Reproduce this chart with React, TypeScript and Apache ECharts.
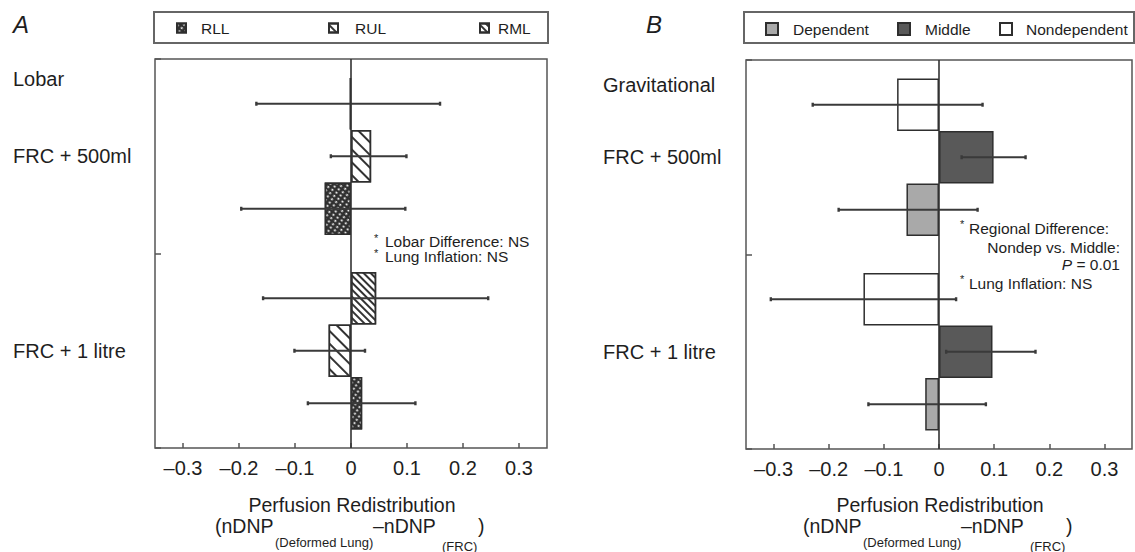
import React, { useEffect, useRef } from 'react';
import * as echarts from 'echarts';

// ---------------- data ----------------
const categories = ['FRC + 500ml', 'FRC + 1 litre'];
const xTickValues = [-0.3, -0.2, -0.1, 0, 0.1, 0.2, 0.3];
const xTickLabels = ['–0.3', '–0.2', '–0.1', '0', '0.1', '0.2', '0.3'];

// Panel A (lobar) – bars listed top→bottom inside each group
const lobarNames = ['RML', 'RUL', 'RLL'];
const rmlValues = [-0.002, 0.045];
const rulValues = [0.036, -0.04];
const rllValues = [-0.047, 0.02];
const rmlLow = [-0.169, -0.157];
const rmlHigh = [0.159, 0.245];
const rulLow = [-0.036, -0.101];
const rulHigh = [0.099, 0.025];
const rllLow = [-0.196, -0.077];
const rllHigh = [0.097, 0.115];

// Panel B (gravitational) – bars listed top→bottom inside each group
const gravNames = ['Nondependent', 'Middle', 'Dependent'];
const nondepValues = [-0.076, -0.137];
const middleValues = [0.099, 0.097];
const dependValues = [-0.059, -0.025];
const nondepLow = [-0.229, -0.305];
const nondepHigh = [0.079, 0.031];
const middleLow = [0.041, 0.013];
const middleHigh = [0.157, 0.175];
const dependLow = [-0.182, -0.128];
const dependHigh = [0.07, 0.085];

// ---------------- styling ----------------
const FONT = "'Liberation Sans', Arial, Helvetica, sans-serif";
const TEXT = '#1e1e1e';
const FRAME = '#555';
const EDGE = '#2e2e2e';
const ERR = '#3a3a3a';
const CAT_GAP = 0.19;

const fmtTick = (v: number) => {
  const i = xTickValues.findIndex((t) => Math.abs(t - v) < 1e-9);
  return i >= 0 ? xTickLabels[i] : '';
};

function errorRows(lows: number[][], highs: number[][]) {
  const rows: number[][] = [];
  lows.forEach((lo, s) => {
    lo.forEach((l, c) => rows.push([c, s, l, highs[s][c]]));
  });
  return rows;
}

const errorRender = (params: any, api: any) => {
  const c = api.value(0);
  const s = api.value(1);
  const lo = api.value(2);
  const hi = api.value(3);
  const centre = api.coord([0, c]);
  const band = api.size([0, 1])[1];
  const bw = (band * (1 - CAT_GAP)) / 3;
  const y = centre[1] - 1.5 * bw + (s + 0.5) * bw;
  const x1 = api.coord([lo, c])[0];
  const x2 = api.coord([hi, c])[0];
  return {
    type: 'group',
    children: [
      { type: 'line', shape: { x1, y1: y, x2, y2: y }, style: { stroke: ERR, lineWidth: 1.8 } },
      { type: 'line', shape: { x1, y1: y - 2, x2: x1, y2: y + 2 }, style: { stroke: ERR, lineWidth: 2.4 } },
      { type: 'line', shape: { x1: x2, y1: y - 2, x2, y2: y + 2 }, style: { stroke: ERR, lineWidth: 2.4 } },
    ],
  };
};

const decals: Record<string, any> = {
  RML: { symbol: 'rect', symbolSize: 1, dashArrayX: [1, 0], dashArrayY: [1.3, 2.2], rotation: Math.PI / 4, color: '#333' },
  RUL: { symbol: 'rect', symbolSize: 1, dashArrayX: [1, 0], dashArrayY: [1.6, 6.5], rotation: Math.PI / 4, color: '#333' },
  RLL: { symbol: 'circle', symbolSize: 1, dashArrayX: [2.2, 1.3], dashArrayY: [1.8, 1.5], rotation: 0.6, color: '#f4f4f4' },
};
const fills: Record<string, string> = {
  RML: '#ffffff',
  RUL: '#ffffff',
  RLL: '#303030',
  Nondependent: '#ffffff',
  Middle: '#595959',
  Dependent: '#a9a9a9',
};

function barSeries(name: string, data: number[], idx: number, withZero: boolean) {
  const s: any = {
    type: 'bar',
    name,
    xAxisIndex: idx,
    yAxisIndex: idx,
    data,
    barGap: '0%',
    barCategoryGap: CAT_GAP * 100 + '%',
    silent: true,
    itemStyle: { color: fills[name], borderColor: EDGE, borderWidth: 1.5 },
  };
  if (decals[name]) s.itemStyle.decal = decals[name];
  if (withZero) {
    s.markLine = {
      silent: true,
      symbol: 'none',
      label: { show: false },
      lineStyle: { color: '#333', width: 1.6, type: 'solid' },
      data: [{ xAxis: 0 }],
      z: 5,
    };
  }
  return s;
}

function legendItem(name: string, left: number, top: number, size: number, pad: number) {
  return {
    data: [name],
    left,
    top,
    padding: 0,
    itemWidth: size,
    itemHeight: size,
    icon: 'rect',
    selectedMode: false,
    textStyle: { fontFamily: FONT, fontSize: 15.5, color: TEXT, padding: [0, 0, 0, pad] },
  };
}

function makeXAxis(i: number) {
  return {
    type: 'value',
    gridIndex: i,
    min: -0.35,
    max: 0.35,
    axisLine: { show: false, onZero: false },
    splitLine: { show: false },
    axisTick: { show: true, inside: true, length: 5, lineStyle: { color: FRAME, width: 1.5 }, customValues: xTickValues },
    axisLabel: { customValues: xTickValues, formatter: fmtTick, fontSize: 20, color: TEXT, fontFamily: FONT, margin: 10 },
  };
}

function makeYAxis(i: number, margin: number) {
  return {
    type: 'category',
    gridIndex: i,
    data: categories,
    inverse: true,
    axisLine: { show: false, onZero: false },
    splitLine: { show: false },
    axisTick: { show: true, inside: true, length: 6, lineStyle: { color: FRAME, width: 1.5 } },
    axisLabel: { align: 'left', margin, fontSize: 20, color: TEXT, fontFamily: FONT },
  };
}

function txt(text: string, x: number, y: number, size: number, extra: any = {}) {
  return {
    type: 'text',
    x,
    y,
    silent: true,
    style: { text, fontSize: size, fontFamily: FONT, fill: TEXT, align: 'left', verticalAlign: 'middle', ...extra },
  };
}

function axisTitle(dx: number) {
  return [
    txt('Perfusion Redistribution', 352 + dx, 505, 19.5, { align: 'center' }),
    txt('(nDNP', 215 + dx, 526, 19.5),
    txt('(Deformed Lung)', 275 + dx, 542, 13),
    txt('–nDNP', 373 + dx, 526, 19.5),
    txt('(FRC)', 442 + dx, 546, 13),
    txt(')', 478 + dx, 526, 19.5),
  ];
}

export default function App() {
  const ref = useRef<HTMLDivElement>(null);
  useEffect(() => {
    if (!ref.current) return;
    const chart = echarts.init(ref.current, undefined, { renderer: 'svg' });
    const option: any = {
      animation: false,
      backgroundColor: '#ffffff',
      grid: [
        { left: 155, top: 59, width: 392, height: 389, show: true, borderColor: FRAME, borderWidth: 1.5, backgroundColor: 'transparent' },
        { left: 746, top: 60, width: 386, height: 389, show: true, borderColor: FRAME, borderWidth: 1.5, backgroundColor: 'transparent' },
      ],
      xAxis: [makeXAxis(0), makeXAxis(1)],
      yAxis: [makeYAxis(0, 142), makeYAxis(1, 143)],
      legend: [
        legendItem('RLL', 176, 20, 9, 10),
        legendItem('RUL', 328, 20, 9, 12),
        legendItem('RML', 479, 20, 9, 4),
        legendItem('Dependent', 765, 21, 12, 10),
        legendItem('Middle', 897, 21, 12, 10),
        legendItem('Nondependent', 999, 21, 12, 9),
      ],
      series: [
        barSeries(lobarNames[0], rmlValues, 0, true),
        barSeries(lobarNames[1], rulValues, 0, false),
        barSeries(lobarNames[2], rllValues, 0, false),
        {
          type: 'custom',
          xAxisIndex: 0,
          yAxisIndex: 0,
          silent: true,
          z: 4,
          encode: { x: [2, 3], y: 0 },
          renderItem: errorRender,
          data: errorRows([rmlLow, rulLow, rllLow], [rmlHigh, rulHigh, rllHigh]),
        },
        barSeries(gravNames[0], nondepValues, 1, true),
        barSeries(gravNames[1], middleValues, 1, false),
        barSeries(gravNames[2], dependValues, 1, false),
        {
          type: 'custom',
          xAxisIndex: 1,
          yAxisIndex: 1,
          silent: true,
          z: 4,
          encode: { x: [2, 3], y: 0 },
          renderItem: errorRender,
          data: errorRows([nondepLow, middleLow, dependLow], [nondepHigh, middleHigh, dependHigh]),
        },
      ],
      graphic: [
        { type: 'rect', silent: true, shape: { x: 154, y: 12, width: 394, height: 31 }, style: { fill: 'none', stroke: '#666', lineWidth: 2 } },
        { type: 'rect', silent: true, shape: { x: 744, y: 12, width: 390, height: 31 }, style: { fill: 'none', stroke: '#666', lineWidth: 2 } },
        txt('A', 13, 24, 24, { fontStyle: 'italic' }),
        txt('B', 646, 24, 24, { fontStyle: 'italic' }),
        txt('Lobar', 13, 79, 20),
        txt('Gravitational', 603, 85, 20),
        txt('*', 374, 238, 11),
        txt('Lobar Difference: NS', 385, 241, 15.5),
        txt('*', 374, 253, 11),
        txt('Lung Inflation: NS', 385, 256, 15.5),
        txt('*', 960, 224, 11),
        txt('Regional Difference:', 969, 228, 15.5),
        txt('Nondep vs. Middle:', 1120, 247, 15.5, { align: 'right' }),
        {
          type: 'text',
          x: 1120,
          y: 264,
          silent: true,
          style: {
            text: '{i|P} = 0.01',
            fontSize: 15.5,
            fontFamily: FONT,
            fill: TEXT,
            align: 'right',
            verticalAlign: 'middle',
            rich: { i: { fontStyle: 'italic', fontSize: 15.5, fontFamily: FONT, fill: TEXT } },
          },
        },
        txt('*', 960, 279, 11),
        txt('Lung Inflation: NS', 969, 283, 15.5),
        ...axisTitle(0),
        ...axisTitle(588),
      ],
    };
    chart.setOption(option);
    return () => chart.dispose();
  }, []);
  return <div ref={ref} style={{ position: 'absolute', left: 0, top: 0, width: 1135, height: 552 }} />;
}
